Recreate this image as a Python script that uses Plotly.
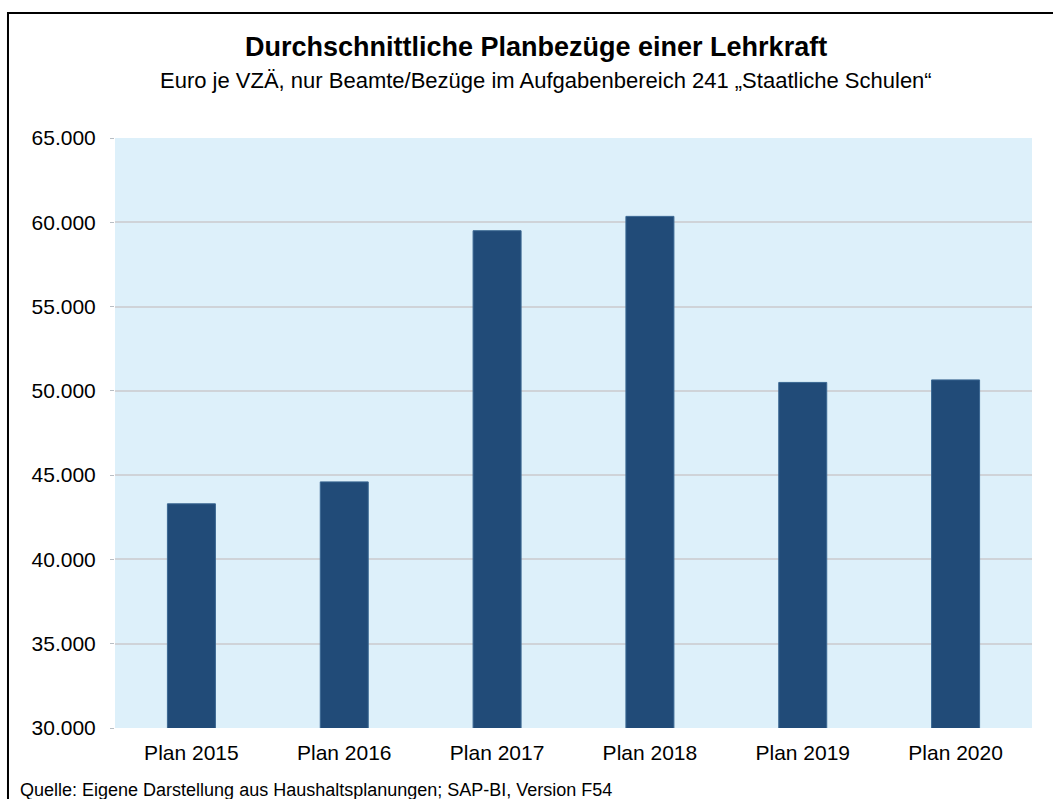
import plotly.graph_objects as go

# Average planned salaries per full-time equivalent (Euro)
categories = ["Plan 2015", "Plan 2016", "Plan 2017", "Plan 2018", "Plan 2019", "Plan 2020"]
values = [43300, 44600, 59500, 60350, 50500, 50650]

tick_values = [30000, 35000, 40000, 45000, 50000, 55000, 60000, 65000]
tick_labels = ["30.000", "35.000", "40.000", "45.000", "50.000", "55.000", "60.000", "65.000"]

title_text = "Durchschnittliche Planbezüge einer Lehrkraft"
subtitle_text = "Euro je VZÄ, nur Beamte/Bezüge im Aufgabenbereich 241 „Staatliche Schulen“"
source_text = "Quelle: Eigene Darstellung aus Haushaltsplanungen; SAP-BI, Version F54"

FONT = "Liberation Sans, Arial, sans-serif"
BAR_COLOR = "#214B78"

fig = go.Figure(
    go.Bar(
        x=categories,
        y=values,
        width=0.314,
        marker=dict(color=BAR_COLOR, line=dict(color="#3A6792", width=1)),
        hoverinfo="x+y",
    )
)

fig.update_layout(
    width=1053,
    height=799,
    margin=dict(l=115, r=21, t=138, b=71),
    paper_bgcolor="white",
    plot_bgcolor="#DDF0FA",
    showlegend=False,
    font=dict(family=FONT, color="black", size=21),
    xaxis=dict(
        showgrid=False,
        showline=False,
        ticks="",
        tickfont=dict(size=21, color="black"),
        ticklabelstandoff=10,
    ),
    yaxis=dict(
        range=[30000, 65000],
        tickvals=tick_values,
        ticktext=tick_labels,
        showgrid=True,
        gridcolor="#CFD3D8",
        gridwidth=1.5,
        zeroline=False,
        showline=False,
        ticks="outside",
        ticklen=4,
        tickcolor="#B8BEC4",
        tickfont=dict(size=21, color="black"),
        ticklabelstandoff=10,
    ),
    shapes=[
        # outer frame around the whole graphic
        dict(
            type="rect",
            xref="paper", yref="paper",
            x0=-0.1167, x1=1.2, y0=-0.4, y1=1.2119,
            line=dict(color="black", width=2),
            fillcolor="rgba(0,0,0,0)",
            layer="above",
        ),
    ],
    annotations=[
        dict(
            text="<b>" + title_text + "</b>",
            xref="paper", yref="paper",
            x=0.459, y=1.154,
            xanchor="center", yanchor="middle",
            showarrow=False,
            font=dict(size=27, family=FONT, color="black"),
        ),
        dict(
            text=subtitle_text,
            xref="paper", yref="paper",
            x=0.470, y=1.098,
            xanchor="center", yanchor="middle",
            showarrow=False,
            font=dict(size=22, family=FONT, color="black"),
        ),
        dict(
            text=source_text,
            xref="paper", yref="paper",
            x=-0.1058, y=-0.105,
            xanchor="left", yanchor="middle",
            showarrow=False,
            font=dict(size=18, family=FONT, color="black"),
        ),
    ],
)

fig.write_html("out.html")
